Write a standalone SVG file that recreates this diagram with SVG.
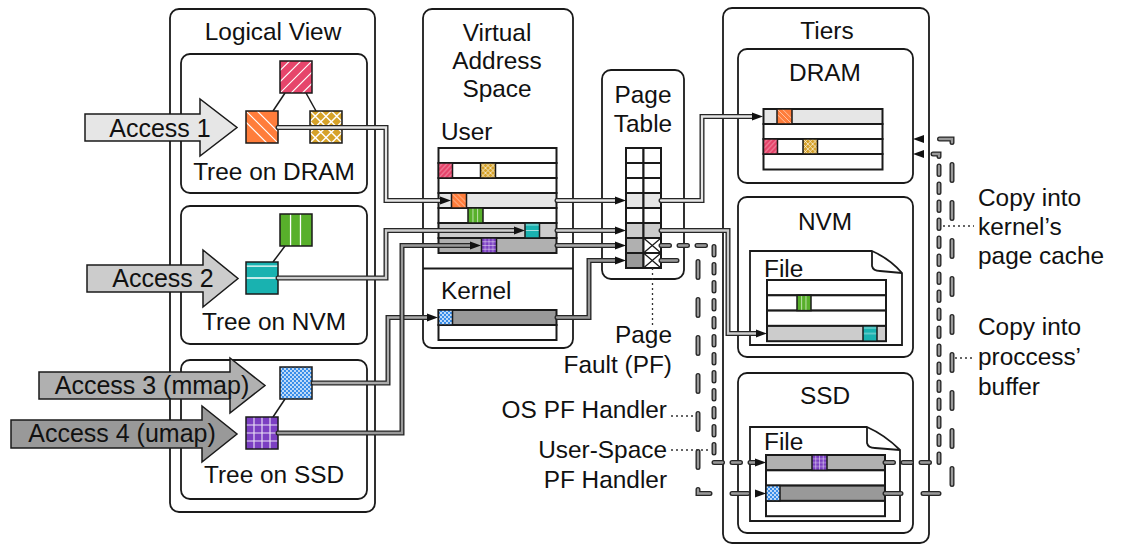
<svg xmlns="http://www.w3.org/2000/svg" width="1123" height="545" viewBox="0 0 1123 545">
  <defs>
    <style>
      text { font-family: "Liberation Sans", Arial, Helvetica, sans-serif; font-size: 24.4px; fill: #111; }
      .acc { font-size: 25px; }
      .mid { text-anchor: middle; }
      .end { text-anchor: end; }
      .box { fill: none; stroke: #1a1a1a; stroke-width: 1.8; }
      .row { stroke: #1a1a1a; stroke-width: 2; }
      .sq { stroke: #1a1a1a; stroke-width: 1.5; }
      .edge { stroke: #1a1a1a; stroke-width: 1.5; }
      .blk { stroke: #1a1a1a; stroke-width: 1.5; }
      .po { fill: none; stroke: #262626; stroke-width: 5; stroke-linecap: round; stroke-linejoin: miter; }
      .pi { fill: none; stroke-width: 2.3; stroke-linecap: round; stroke-linejoin: miter; }
      .sd { stroke-dasharray: 8.5 9.5; }
      .ld { stroke-dasharray: 16 22; }
      .lead { fill: none; stroke: #333; stroke-width: 1.3; stroke-dasharray: 2 3; }
      .w { fill: #fff; }
      .g1 { fill: #e6e6e6; }
      .g2 { fill: #cccccc; }
      .g3 { fill: #b0b0b0; }
      .g4 { fill: #999999; }
    </style>
    <marker id="ah" markerUnits="userSpaceOnUse" markerWidth="12" markerHeight="10" viewBox="0 0 12 10" refX="0" refY="5" orient="auto">
      <path d="M0,1 L11,5 L0,9 Z" fill="#111"/>
    </marker>
    <!-- block fills -->
    <pattern id="pPink" width="1" height="1" patternContentUnits="objectBoundingBox">
      <rect width="1" height="1" fill="#e6456b"/>
      <path d="M0,0.3 L0.3,0 M0,0.65 L0.65,0 M0,1 L1,0 M0.35,1 L1,0.35 M0.7,1 L1,0.7" stroke="#fff" stroke-width="0.035"/>
    </pattern>
    <pattern id="pOrange" width="1" height="1" patternContentUnits="objectBoundingBox">
      <rect width="1" height="1" fill="#ff7d3b"/>
      <path d="M0,0.35 L0.65,1 M0,0 L1,1 M0.35,0 L1,0.65" stroke="#fff" stroke-width="0.035"/>
    </pattern>
    <pattern id="pGold" width="1" height="1" patternContentUnits="objectBoundingBox">
      <rect width="1" height="1" fill="#d6a229"/>
      <path d="M0,0.33 L0.67,1 M0,0 L1,1 M0.33,0 L1,0.67 M0,0.67 L0.33,1 M0.67,0 L1,0.33 M0,0.67 L0.67,0 M0,1 L1,0 M0.33,1 L1,0.33 M0,0.33 L0.33,0 M0.67,1 L1,0.67" stroke="#fff" stroke-width="0.045"/>
    </pattern>
    <pattern id="pGreen" width="1" height="1" patternContentUnits="objectBoundingBox">
      <rect width="1" height="1" fill="#58b02b"/>
      <path d="M0.33,0 V1 M0.64,0 V1" stroke="#fff" stroke-width="0.04"/>
    </pattern>
    <pattern id="pTeal" width="1" height="1" patternContentUnits="objectBoundingBox">
      <rect width="1" height="1" fill="#19b2b0"/>
      <path d="M0,0.13 H1 M0,0.5 H1" stroke="#fff" stroke-width="0.04"/>
    </pattern>
    <pattern id="pBlue" width="4" height="4" patternUnits="userSpaceOnUse">
      <rect width="4" height="4" fill="#3a8ee9"/>
      <circle cx="1" cy="1" r="0.9" fill="#fff"/>
      <circle cx="3" cy="3" r="0.9" fill="#fff"/>
    </pattern>
    <pattern id="pPurple" width="1" height="1" patternContentUnits="objectBoundingBox">
      <rect width="1" height="1" fill="#7b3fc2"/>
      <path d="M0.25,0 V1 M0.5,0 V1 M0.75,0 V1 M0,0.25 H1 M0,0.5 H1 M0,0.75 H1" stroke="#fff" stroke-width="0.035" stroke-opacity="0.85"/>
    </pattern>
  </defs>

  <rect width="1123" height="545" fill="#fff"/>

  <!-- Logical view column -->
  <g id="logical-view">
    <rect class="box" x="170" y="9" width="205" height="503" rx="9"/>
    <text class="mid" x="273" y="40">Logical View</text>
  </g>

  <g id="tree-dram">
    <rect class="box" x="181" y="54" width="186" height="139" rx="9"/>
    <line class="edge" x1="285" y1="93" x2="273" y2="111"/>
    <line class="edge" x1="306" y1="93" x2="316" y2="111"/>
    <rect class="sq" x="280" y="61" width="32" height="32" fill="url(#pPink)"/>
    <rect class="sq" x="246" y="111" width="32" height="32" fill="url(#pOrange)"/>
    <rect class="sq" x="310" y="111" width="32" height="32" fill="url(#pGold)"/>
    <text class="mid" x="274" y="180">Tree on DRAM</text>
  </g>

  <g id="tree-nvm">
    <rect class="box" x="181" y="206" width="186" height="138" rx="9"/>
    <line class="edge" x1="285" y1="246" x2="273" y2="262"/>
    <rect class="sq" x="280" y="214" width="32" height="32" fill="url(#pGreen)"/>
    <rect class="sq" x="246" y="262" width="32" height="32" fill="url(#pTeal)"/>
    <text class="mid" x="274" y="330">Tree on NVM</text>
  </g>

  <g id="tree-ssd">
    <rect class="box" x="181" y="360" width="186" height="139" rx="9"/>
    <line class="edge" x1="285" y1="399" x2="273" y2="417"/>
    <rect class="sq" x="280" y="367" width="32" height="32" fill="url(#pBlue)"/>
    <rect class="sq" x="246" y="417" width="32" height="32" fill="url(#pPurple)"/>
    <text class="mid" x="274" y="483">Tree on SSD</text>
  </g>

  <!-- access arrows -->
  <g id="access-1">
    <polygon class="blk" fill="#e6e6e6" points="85,114 200,114 200,99 237,127.5 200,156 200,141 85,141"/>
    <text class="mid acc" x="160" y="137">Access 1</text>
  </g>
  <g id="access-2">
    <polygon class="blk" fill="#cccccc" points="87,265 203,265 203,250 238,278.5 203,307 203,292 87,292"/>
    <text class="mid acc" x="163" y="287">Access 2</text>
  </g>
  <g id="access-3">
    <polygon class="blk" fill="#b0b0b0" points="39,372 230,372 230,358 265,385.5 230,413 230,399 39,399"/>
    <text class="mid acc" x="152" y="394">Access 3 (mmap)</text>
  </g>
  <g id="access-4">
    <polygon class="blk" fill="#999999" points="11,420 202,420 202,406 237,434 202,462 202,448 11,448"/>
    <text class="mid acc" x="122" y="442">Access 4 (umap)</text>
  </g>

  <!-- virtual address space -->
  <g id="vas">
    <rect class="box" x="423" y="9" width="150" height="339" rx="9"/>
    <text class="mid" x="497" y="41">Virtual</text>
    <text class="mid" x="497" y="69">Address</text>
    <text class="mid" x="497" y="97">Space</text>
    <text x="441" y="140">User</text>
    <rect class="row w" x="438.5" y="148" width="118" height="15"/>
    <rect class="row w" x="438.5" y="163" width="118" height="15"/>
    <rect class="row w" x="438.5" y="178" width="118" height="15"/>
    <rect class="row g1" x="438.5" y="193" width="118" height="15"/>
    <rect class="row w" x="438.5" y="208" width="118" height="15"/>
    <rect class="row g2" x="438.5" y="223" width="118" height="15"/>
    <rect class="row g3" x="438.5" y="238" width="118" height="15"/>
    <rect class="sq" x="438.5" y="163" width="14" height="15" fill="url(#pPink)"/>
    <rect class="sq" x="480.5" y="163" width="15" height="15" fill="url(#pGold)"/>
    <rect class="sq" x="451.5" y="193" width="15" height="15" fill="url(#pOrange)"/>
    <rect class="sq" x="468" y="208" width="15" height="15" fill="url(#pGreen)"/>
    <rect class="sq" x="525" y="223" width="14.5" height="15" fill="url(#pTeal)"/>
    <rect class="sq" x="481.5" y="238" width="15" height="15" fill="url(#pPurple)"/>
    <line x1="423" y1="268.5" x2="573" y2="268.5" stroke="#1a1a1a" stroke-width="2.2"/>
    <text x="441" y="299">Kernel</text>
    <rect class="row g4" x="438.5" y="310" width="118" height="15"/>
    <rect class="row w" x="438.5" y="325" width="118" height="15"/>
    <rect class="sq" x="438.5" y="310" width="14" height="15" fill="url(#pBlue)"/>
  </g>

  <!-- page table -->
  <g id="page-table">
    <rect class="box" x="602" y="70" width="82" height="209" rx="9"/>
    <text class="mid" x="643" y="103">Page</text>
    <text class="mid" x="643" y="132">Table</text>
    <rect class="row w" x="626" y="148" width="17.5" height="15"/><rect class="row w" x="643.5" y="148" width="17.5" height="15"/>
    <rect class="row w" x="626" y="163" width="17.5" height="15"/><rect class="row w" x="643.5" y="163" width="17.5" height="15"/>
    <rect class="row w" x="626" y="178" width="17.5" height="15"/><rect class="row w" x="643.5" y="178" width="17.5" height="15"/>
    <rect class="row g1" x="626" y="193" width="17.5" height="15"/><rect class="row g1" x="643.5" y="193" width="17.5" height="15"/>
    <rect class="row w" x="626" y="208" width="17.5" height="15"/><rect class="row w" x="643.5" y="208" width="17.5" height="15"/>
    <rect class="row g2" x="626" y="223" width="17.5" height="15"/><rect class="row g2" x="643.5" y="223" width="17.5" height="15"/>
    <rect class="row g3" x="626" y="238" width="17.5" height="15"/><rect class="row w" x="643.5" y="238" width="17.5" height="15"/>
    <rect class="row g4" x="626" y="253" width="17.5" height="15"/><rect class="row w" x="643.5" y="253" width="17.5" height="15"/>
    <path d="M643.5,238 L661,253 M661,238 L643.5,253 M643.5,253 L661,268 M661,253 L643.5,268" stroke="#1a1a1a" stroke-width="1.3"/>
  </g>

  <!-- storage tiers -->
  <g id="tiers">
    <rect class="box" x="723" y="8" width="206" height="535" rx="9"/>
    <text class="mid" x="827" y="39">Tiers</text>
  </g>

  <g id="dram">
    <rect class="box" x="738" y="49" width="175" height="134" rx="9"/>
    <text class="mid" x="825" y="81">DRAM</text>
    <rect class="row g1" x="763.5" y="109" width="119" height="15"/>
    <rect class="row w" x="763.5" y="124" width="119" height="15"/>
    <rect class="row w" x="763.5" y="139" width="119" height="15"/>
    <rect class="row w" x="763.5" y="154" width="119" height="15.5"/>
    <rect class="sq" x="777" y="109" width="15" height="15" fill="url(#pOrange)"/>
    <rect class="sq" x="763.5" y="139" width="14" height="15" fill="url(#pPink)"/>
    <rect class="sq" x="803" y="139" width="14.5" height="15" fill="url(#pGold)"/>
  </g>

  <g id="nvm">
    <rect class="box" x="738" y="197" width="175" height="160" rx="9"/>
    <text class="mid" x="825" y="230">NVM</text>
    <path class="box" d="M750,251 H872 Q890,259 902,273 V345 H750 Z" fill="#fff"/>
    <path class="box" d="M872,251 V266 Q873,271 880,271 L902,273"/>
    <text x="764" y="277">File</text>
    <rect class="row w" x="767" y="280" width="119" height="15.3"/>
    <rect class="row w" x="767" y="295.3" width="119" height="15.3"/>
    <rect class="row w" x="767" y="310.6" width="119" height="15.3"/>
    <rect class="row g2" x="767" y="325.9" width="119" height="15.3"/>
    <rect class="sq" x="797" y="295.3" width="14" height="15.3" fill="url(#pGreen)"/>
    <rect class="sq" x="863" y="325.9" width="14" height="15.3" fill="url(#pTeal)"/>
  </g>

  <g id="ssd">
    <rect class="box" x="738" y="373" width="175" height="160" rx="9"/>
    <text class="mid" x="825" y="404">SSD</text>
    <path class="box" d="M750,427 H867 Q885,435 900,450 V521 H750 Z" fill="#fff"/>
    <path class="box" d="M867,427 V443 Q868,448 875,448 L900,450"/>
    <text x="764" y="450">File</text>
    <rect class="row g3" x="766" y="455" width="119" height="15.3"/>
    <rect class="row w" x="766" y="470.3" width="119" height="15.3"/>
    <rect class="row g4" x="766" y="485.6" width="119" height="15.3"/>
    <rect class="row w" x="766" y="500.9" width="119" height="15.3"/>
    <rect class="sq" x="812" y="455" width="15" height="15.3" fill="url(#pPurple)"/>
    <rect class="sq" x="766" y="485.6" width="14" height="15.3" fill="url(#pBlue)"/>
  </g>

  <!-- connectors: dark pipe outline with a tinted core -->
  <g id="connectors">
    <path class="po" d="M278,127.5 H386 V200.5 H440"/>
    <path class="pi" stroke="#e6e6e6" marker-end="url(#ah)" d="M278,127.5 H386 V200.5 H440"/>

    <path class="po" d="M278,278 H386 V230.5 H514"/>
    <path class="pi" stroke="#cccccc" marker-end="url(#ah)" d="M278,278 H386 V230.5 H514"/>

    <path class="po" d="M313,383 H388 V317.5 H427"/>
    <path class="pi" stroke="#aaaaaa" marker-end="url(#ah)" d="M313,383 H388 V317.5 H427"/>

    <path class="po" d="M278,433 H402 V245.5 H470"/>
    <path class="pi" stroke="#999999" marker-end="url(#ah)" d="M278,433 H402 V245.5 H470"/>

    <path class="po" d="M557,200.5 H615"/>
    <path class="pi" stroke="#e6e6e6" marker-end="url(#ah)" d="M557,200.5 H615"/>

    <path class="po" d="M557,230.5 H615"/>
    <path class="pi" stroke="#cccccc" marker-end="url(#ah)" d="M557,230.5 H615"/>

    <path class="po" d="M557,245.5 H615"/>
    <path class="pi" stroke="#aaaaaa" marker-end="url(#ah)" d="M557,245.5 H615"/>

    <path class="po" d="M557,317.5 H589 V260.5 H615"/>
    <path class="pi" stroke="#999999" marker-end="url(#ah)" d="M557,317.5 H589 V260.5 H615"/>

    <path class="po" d="M661,200.5 H702 V116.5 H752"/>
    <path class="pi" stroke="#e6e6e6" marker-end="url(#ah)" d="M661,200.5 H702 V116.5 H752"/>

    <path class="po" d="M661,230.5 H728 V333.5 H756"/>
    <path class="pi" stroke="#cccccc" marker-end="url(#ah)" d="M661,230.5 H728 V333.5 H756"/>

    <!-- page-fault handling paths -->
    <path class="po sd" d="M661,245.5 H714 V462.5 H755"/>
    <path class="pi sd" stroke="#999999" marker-end="url(#ah)" d="M661,245.5 H714 V462.5 H755"/>

    <path class="po ld" d="M661,260.5 H698 V493.5 H755"/>
    <path class="pi ld" stroke="#999999" marker-end="url(#ah)" d="M661,260.5 H698 V493.5 H755"/>

    <!-- copies back up into DRAM -->
    <path class="po sd" d="M885,462.5 H939 V154 H924"/>
    <path class="pi sd" stroke="#999999" marker-end="url(#ah)" d="M885,462.5 H939 V154 H924"/>

    <path class="po ld" d="M885,493.5 H952 V139 H924"/>
    <path class="pi ld" stroke="#999999" marker-end="url(#ah)" d="M885,493.5 H952 V139 H924"/>
  </g>

  <!-- callouts -->
  <g id="labels">
    <path class="lead" d="M652.5,268 V327"/>
    <text class="end" x="672" y="343">Page</text>
    <text class="end" x="672" y="373">Fault (PF)</text>

    <path class="lead" d="M671,416 H695"/>
    <text class="end" x="667" y="418">OS PF Handler</text>

    <path class="lead" d="M671,450 H711"/>
    <text class="end" x="667" y="458">User-Space</text>
    <text class="end" x="667" y="488">PF Handler</text>

    <path class="lead" d="M943,226 H974"/>
    <text x="978" y="206">Copy into</text>
    <text x="978" y="235">kernel’s</text>
    <text x="978" y="264">page cache</text>

    <path class="lead" d="M955,358 H972"/>
    <text x="978" y="335">Copy into</text>
    <text x="978" y="365">proccess’</text>
    <text x="978" y="395">buffer</text>
  </g>
</svg>
